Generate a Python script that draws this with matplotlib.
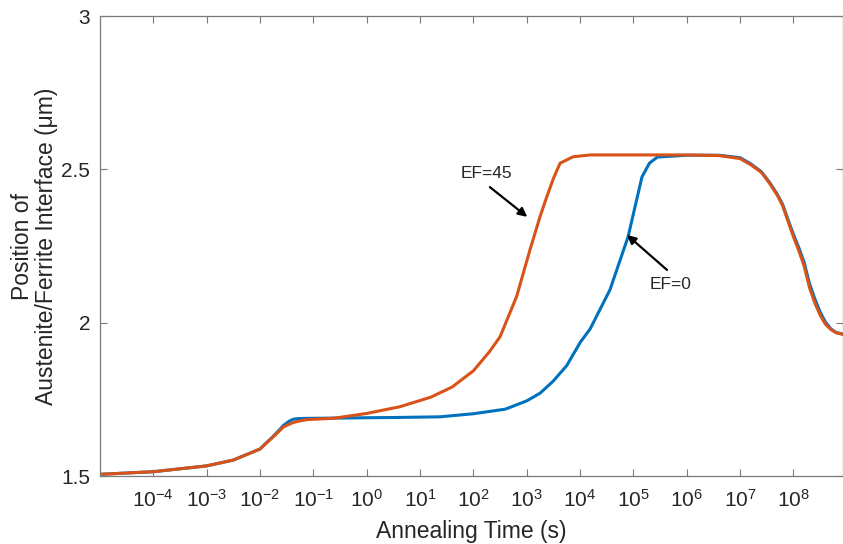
"""
Interface position vs annealing time, two EF cases (log time axis).
"""
import numpy as np
import matplotlib
matplotlib.use("Agg")
import matplotlib.pyplot as plt
from matplotlib.ticker import FixedLocator, LogFormatterSciNotation, NullLocator

plt.rcParams["font.family"] = ["Liberation Sans", "DejaVu Sans"]
plt.rcParams["mathtext.fontset"] = "custom"
plt.rcParams["mathtext.rm"] = "Liberation Sans"
plt.rcParams["mathtext.it"] = "Liberation Sans:italic"

# log10 of annealing time (s) and interface position (um)
logt_ef0 = [-5, -4, -3, -2.5, -2, -1.9, -1.75, -1.65, -1.56, -1.45, -1.38,
            -1.3, -1.12, -0.5, 0, 0.625, 1.375, 2, 2.6, 3, 3.25, 3.5, 3.75,
            4, 4.19, 4.56, 4.9, 5.16, 5.3, 5.45, 6, 6.6, 7, 7.2, 7.4, 7.55,
            7.7, 7.8, 7.9, 8, 8.1, 8.2, 8.3, 8.4, 8.5, 8.6, 8.7, 8.8, 8.92]
pos_ef0 = [1.5055, 1.514, 1.533, 1.552, 1.588, 1.605, 1.63, 1.648, 1.665,
           1.679, 1.685, 1.687, 1.688, 1.689, 1.69, 1.691, 1.693, 1.703,
           1.718, 1.745, 1.77, 1.81, 1.86, 1.935, 1.98, 2.107, 2.28, 2.475,
           2.52, 2.54, 2.546, 2.546, 2.538, 2.518, 2.492, 2.458, 2.418,
           2.385, 2.335, 2.288, 2.245, 2.197, 2.128, 2.078, 2.035, 2.002,
           1.98, 1.968, 1.963]

logt_ef45 = [-5, -4, -3, -2.5, -2, -1.9, -1.75, -1.65, -1.56, -1.45, -1.38,
             -1.3, -1.12, -0.63, 0, 0.625, 1.2, 1.6, 2, 2.3, 2.5, 2.81, 3.06,
             3.25, 3.375, 3.5, 3.625, 3.87, 4.2, 5, 6, 6.6, 7, 7.2, 7.4,
             7.55, 7.7, 7.8, 7.9, 8, 8.1, 8.2, 8.3, 8.4, 8.5, 8.6, 8.7, 8.8,
             8.92]
pos_ef45 = [1.5055, 1.514, 1.533, 1.552, 1.588, 1.604, 1.628, 1.645, 1.66,
            1.669, 1.674, 1.678, 1.684, 1.688, 1.704, 1.726, 1.757, 1.79,
            1.843, 1.905, 1.954, 2.085, 2.237, 2.346, 2.41, 2.47, 2.52,
            2.541, 2.547, 2.547, 2.547, 2.545, 2.535, 2.515, 2.49, 2.455,
            2.415, 2.38, 2.33, 2.28, 2.235, 2.185, 2.115, 2.065, 2.025,
            1.995, 1.978, 1.967, 1.962]

x_ticks = [1e-4, 1e-3, 1e-2, 1e-1, 1e0, 1e1, 1e2, 1e3, 1e4, 1e5, 1e6, 1e7, 1e8]
y_ticks = [1.5, 2, 2.5, 3]
y_tick_labels = ["1.5", "2", "2.5", "3"]

# annotation label, label centre, arrow tail, arrow head (log10 t, position)
ann_labels = ["EF=45", "EF=0"]
ann_text_at = [(2.24, 2.487), (5.69, 2.125)]
ann_tail = [(2.31, 2.442), (5.63, 2.172)]
ann_head = [(3.01, 2.345), (4.88, 2.286)]

BLUE = "#0072BD"
ORANGE = "#D95319"
TEXT = "#262626"
AXIS = "#7a7a7a"

W, H = 843, 544
fig = plt.figure(figsize=(W / 100, H / 100), dpi=100)
ax = fig.add_axes([100 / W, (H - 476) / H, (842.5 - 100) / W, (476 - 16) / H])

ax.plot(10 ** np.array(logt_ef0), pos_ef0, color=BLUE, lw=2.2)
ax.plot(10 ** np.array(logt_ef45), pos_ef45, color=ORANGE, lw=2.2)

ax.set_xscale("log")
ax.set_xlim(1e-5, 10 ** 8.92)
ax.set_ylim(1.5, 3)

ax.xaxis.set_major_locator(FixedLocator(x_ticks))
ax.xaxis.set_major_formatter(LogFormatterSciNotation())
ax.xaxis.set_minor_locator(NullLocator())
ax.set_yticks(y_ticks)
ax.set_yticklabels(y_tick_labels)

ax.tick_params(which="both", direction="in", length=5, width=0.8,
               color=AXIS, labelcolor=TEXT, labelsize=15,
               top=True, right=True)
ax.tick_params(axis="x", pad=9)
ax.tick_params(axis="y", pad=7)
for sp in ax.spines.values():
    sp.set_color(AXIS)
    sp.set_linewidth(0.9)

ax.set_xlabel("Annealing Time (s)", fontsize=16.5, color=TEXT, labelpad=7)
ax.set_ylabel("Position of\nAustenite/Ferrite Interface (\u03bcm)",
              fontsize=16.5, color=TEXT, labelpad=2, linespacing=1.1)

# arrows with labels
for lab, (tx, ty), (ax0, ay0), (hx, hy) in zip(ann_labels, ann_text_at,
                                               ann_tail, ann_head):
    ax.text(10 ** tx, ty, lab, ha="center", va="center", fontsize=12.5,
            color=TEXT)
    ax.annotate("", xy=(10 ** hx, hy), xytext=(10 ** ax0, ay0),
                arrowprops=dict(arrowstyle="-|>", color="black", lw=1.6,
                                mutation_scale=13, shrinkA=0, shrinkB=0))

fig.savefig("out.png", dpi=100)
